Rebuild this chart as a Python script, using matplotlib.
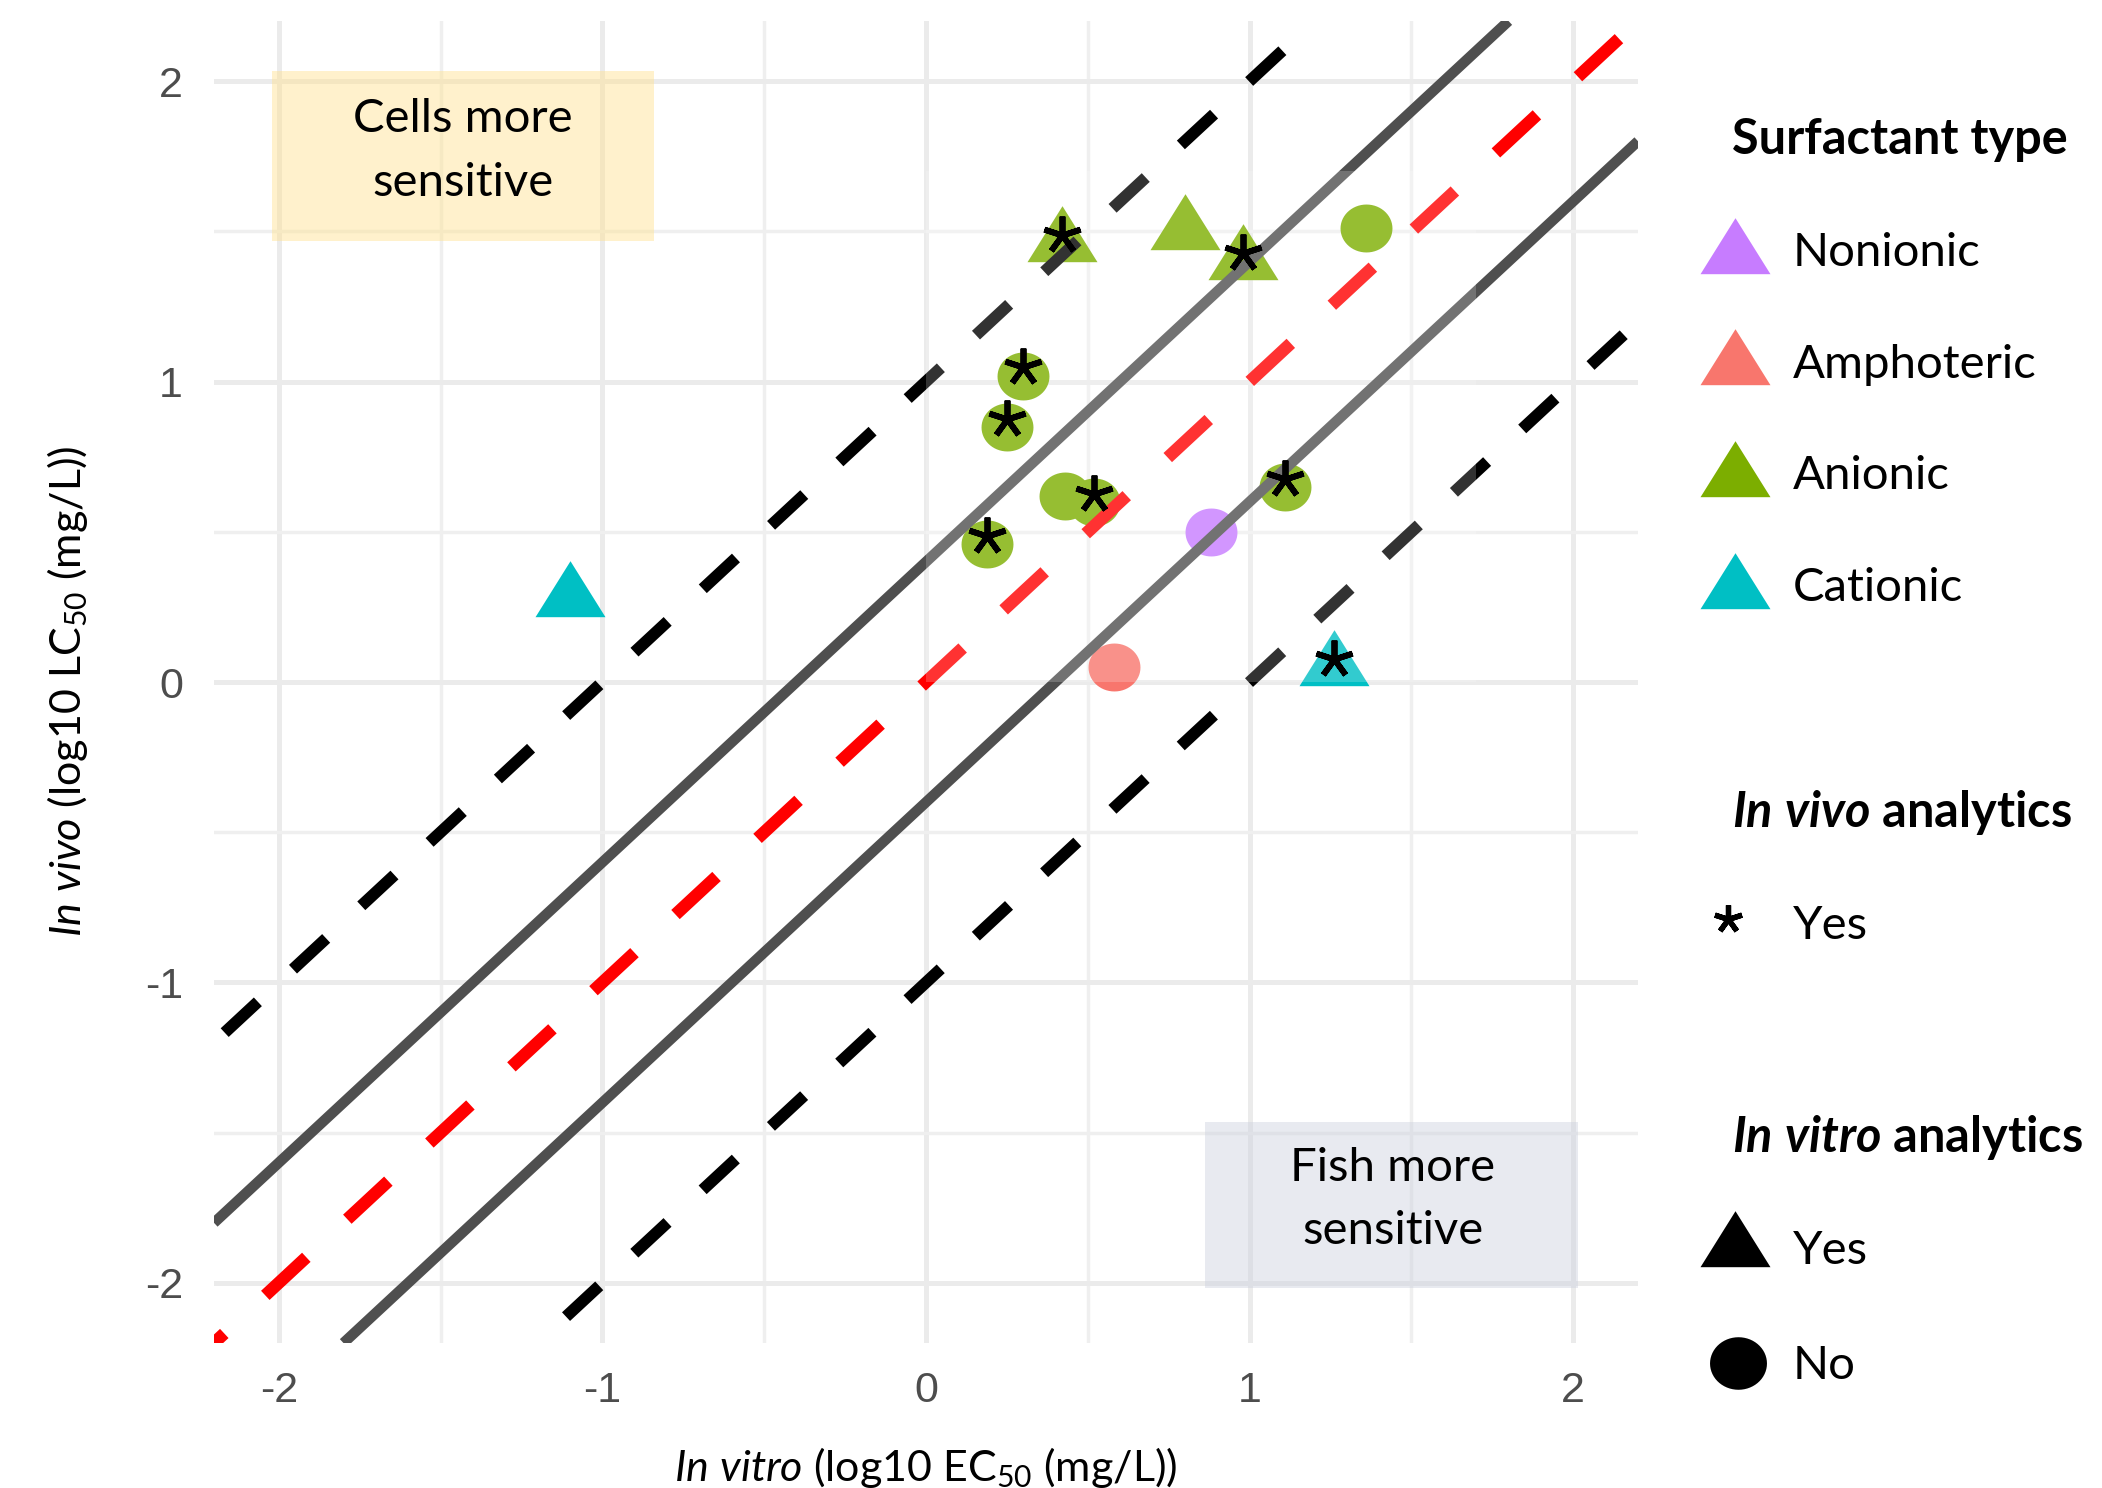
import numpy as np
import matplotlib
matplotlib.use('Agg')
import matplotlib.pyplot as plt
from matplotlib.patches import Rectangle
from matplotlib.transforms import offset_copy

plt.rcParams['font.family'] = ['Lato', 'DejaVu Sans']
plt.rcParams['mathtext.fontset'] = 'custom'
plt.rcParams['mathtext.rm'] = 'Lato'
plt.rcParams['mathtext.it'] = 'Lato:italic'
plt.rcParams['mathtext.bf'] = 'Lato:bold'
plt.rcParams['mathtext.bfit'] = 'Lato:italic:bold'
plt.rcParams['axes.unicode_minus'] = False
plt.rcParams['lines.scale_dashes'] = False

# ---- data (log10 values) ----
x_vitro = [0.42, 0.80, 0.98, 1.36, 0.30, 0.25, 0.43, 0.52, 0.19, 1.11, 0.88, 0.58, 1.26, -1.10]
y_vivo = [1.46, 1.50, 1.40, 1.51, 1.02, 0.85, 0.62, 0.60, 0.46, 0.65, 0.50, 0.05, 0.05, 0.28]
surf = ['Anionic', 'Anionic', 'Anionic', 'Anionic', 'Anionic', 'Anionic', 'Anionic',
        'Anionic', 'Anionic', 'Anionic', 'Nonionic', 'Amphoteric', 'Cationic', 'Cationic']
vitro_an = ['Yes', 'Yes', 'Yes', 'No', 'No', 'No', 'No', 'No', 'No', 'No', 'No', 'No', 'Yes', 'Yes']
vivo_an = ['Yes', 'No', 'Yes', 'No', 'Yes', 'Yes', 'No', 'Yes', 'Yes', 'Yes', 'No', 'No', 'Yes', 'No']

surf_types = ['Nonionic', 'Amphoteric', 'Anionic', 'Cationic']
surf_colors = ['#C77CFF', '#F8766D', '#7CAE00', '#00BFC4']

ref_offset = 0.0            # 1:1 line
band_offsets = [-0.4, 0.4]  # solid grey lines
fold_offsets = [-1.0, 1.0]  # 10-fold lines

ticks = [-2, -1, 0, 1, 2]
minor_ticks = [-1.5, -0.5, 0.5, 1.5]
lims = (-2.2, 2.2)

# ---- figure ----
W, H = 2102, 1488
PX = 72 / 100  # points per pixel
fig = plt.figure(figsize=(W / 100, H / 100), dpi=100)
ax = fig.add_axes([214 / W, 1 - 1343 / H, 1424 / W, 1322 / H])
ax.set_xlim(lims)
ax.set_ylim(lims)

for s in ax.spines.values():
    s.set_visible(False)
ax.set_xticks(ticks)
ax.set_yticks(ticks)
ax.set_xticks(minor_ticks, minor=True)
ax.set_yticks(minor_ticks, minor=True)
ax.set_axisbelow(True)
ax.grid(which='major', color='#EBEBEB', lw=5 * PX)
ax.grid(which='minor', color='#EFEFEF', lw=3.4 * PX)
ax.tick_params(which='both', length=0)
ax.tick_params(axis='x', pad=20.5, labelsize=31, labelcolor='#4D4D4D')
ax.tick_params(axis='y', pad=22.3, labelsize=31, labelcolor='#4D4D4D')
for lbl in ax.get_xticklabels() + ax.get_yticklabels():
    lbl.set_fontfamily('Liberation Sans')

# custom marker shapes (slightly stretched like the original)
tri = np.array([[0, 37.3], [-35, -18.7], [35, -18.7], [0, 37.3]])
th = np.linspace(0, 2 * np.pi, 61)
ell = np.column_stack([26 * np.cos(th), 24 * np.sin(th)])
TRI_MS = 53.7
CIRC_MS = 37.4

# annotation boxes
ax.add_patch(Rectangle((-2.02, 1.468), 1.18, 0.565, fc='#FFE28E', alpha=0.45, lw=0, zorder=1))
ax.add_patch(Rectangle((0.862, -2.017), 1.153, 0.554, fc='#CCD2DE', alpha=0.45, lw=0, zorder=1))
ax.text(-1.43, 1.831, 'Cells more', ha='center', va='baseline', fontsize=34, zorder=6)
ax.text(-1.43, 1.619, 'sensitive', ha='center', va='baseline', fontsize=34, zorder=6)
ax.text(1.443, -1.66, 'Fish more', ha='center', va='baseline', fontsize=34, zorder=6)
ax.text(1.443, -1.87, 'sensitive', ha='center', va='baseline', fontsize=34, zorder=6)

# points
col_of = dict(zip(surf_types, surf_colors))
for xi, yi, t, vt in zip(x_vitro, y_vivo, surf, vitro_an):
    if vt == 'Yes':
        ax.plot(xi, yi, ls='none', marker=tri, ms=TRI_MS, color=col_of[t], mew=0, zorder=2)
    else:
        ax.plot(xi, yi, ls='none', marker=ell, ms=CIRC_MS, color=col_of[t], mew=0, zorder=2)


def ref_line(b, **kw):
    x0 = max(lims[0], lims[0] - b)
    x1 = min(lims[1], lims[1] - b)
    ax.plot([x0, x1], [x0 + b, x1 + b], **kw)


for b in band_offsets:
    ref_line(b, color='#4F4F4F', lw=10.5 * PX, solid_capstyle='butt', zorder=3)
ref_line(ref_offset, color='#FF0000', lw=12.5 * PX, ls=(30.2, (40.3, 40.3)), zorder=3)
ref_line(fold_offsets[1], color='#000000', lw=11.8 * PX, ls=(56.6, (32.6, 34.5)), zorder=3)
ref_line(fold_offsets[0], color='#000000', lw=11.8 * PX, ls=(39.2, (32.6, 34.5)), zorder=3)

# faint white veil over the central region of the original
ax.add_patch(Rectangle((0, 0), 1.7, 1.7, fc='white', alpha=0.2, lw=0, zorder=4))

# in vivo analytics asterisks
ast_tr = offset_copy(ax.transData, fig=fig, x=0, y=5.8, units='points')
xa = [x for x, v in zip(x_vitro, vivo_an) if v == 'Yes']
ya = [y for y, v in zip(y_vivo, vivo_an) if v == 'Yes']
ax.plot(xa, ya, ls='none', marker=(5, 2, 0), ms=27.3, mew=4.2, color='black',
        transform=ast_tr, zorder=5)

# axis titles
fig.text(926 / W, 1 - 1481 / H, r'$\mathit{In\ vitro}$ (log10 EC$_{\mathrm{50}}$ (mg/L))',
         ha='center', va='baseline', fontsize=31)
fig.text(81 / W, 1 - 691 / H, r'$\mathit{In\ vivo}$ (log10 LC$_{\mathrm{50}}$ (mg/L))',
         rotation=90, rotation_mode='anchor', ha='center', va='baseline', fontsize=31)

# ---- legends (pixel coordinates) ----
lax = fig.add_axes([0, 0, 1, 1])
lax.set_xlim(0, W)
lax.set_ylim(H, 0)
lax.axis('off')
lax.patch.set_alpha(0)

lax.text(1732, 154, 'Surfactant type', fontsize=35, fontweight='bold', va='baseline')
for i, (name, col) in enumerate(zip(surf_types, surf_colors)):
    base = 266 + i * 111.7
    lax.plot(1735, base - 11.5, ls='none', marker=tri, ms=TRI_MS, color=col, mew=0, clip_on=False)
    lax.text(1793, base, name, fontsize=34, va='baseline')

lax.text(1732, 827, r'$\mathbfit{In\ vivo}$ analytics', fontsize=35, fontweight='bold', va='baseline')
lax.plot(1728, 919, ls='none', marker=(5, 2, 0), ms=20.4, mew=3.8, color='black', clip_on=False)
lax.text(1793, 939, 'Yes', fontsize=34, va='baseline')

lax.text(1732, 1152, r'$\mathbfit{In\ vitro}$ analytics', fontsize=35, fontweight='bold', va='baseline')
lax.plot(1735, 1248, ls='none', marker=tri, ms=TRI_MS, color='black', mew=0, clip_on=False)
lax.text(1793, 1264, 'Yes', fontsize=34, va='baseline')
lax.plot(1738, 1363, ls='none', marker=ell, ms=41, color='black', mew=0, clip_on=False)
lax.text(1793, 1379, 'No', fontsize=34, va='baseline')

fig.savefig('out.png', dpi=100)
